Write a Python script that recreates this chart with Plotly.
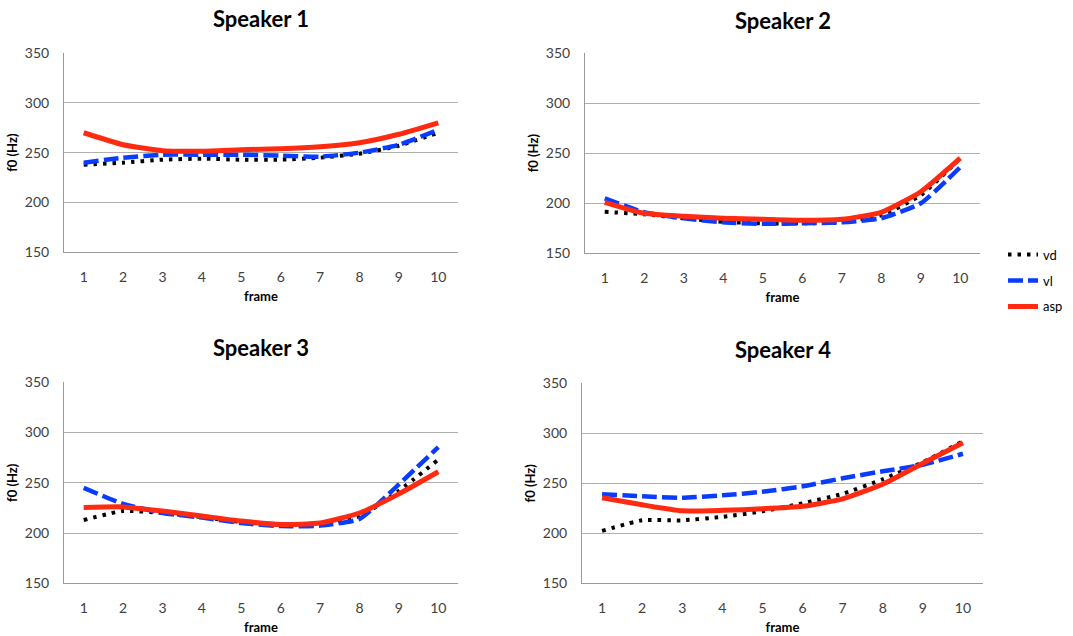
import plotly.graph_objects as go

frames = [1, 2, 3, 4, 5, 6, 7, 8, 9, 10]
tick_labels = ["1", "2", "3", "4", "5", "6", "7", "8", "9", "10"]
speakers = ["Speaker 1", "Speaker 2", "Speaker 3", "Speaker 4"]

vd_s1 = [238, 240, 243, 244, 243, 243, 245, 249, 257, 270]
vl_s1 = [240, 245, 248, 248, 248, 247, 246, 250, 258, 273]
asp_s1 = [270, 258, 252, 251.5, 253, 254, 256, 260, 268.5, 280]

vd_s2 = [191.5, 189, 185, 181.5, 180, 180, 181, 188, 208, 245]
vl_s2 = [205, 191, 185, 181, 179.5, 180, 181, 185, 200, 236]
asp_s2 = [201, 190, 187, 185, 184, 183, 184, 191, 211.5, 245]

vd_s3 = [213, 222, 220, 216, 211, 208.5, 209, 216.5, 242, 273]
vl_s3 = [245, 229, 220, 215.5, 210, 207, 207.5, 214, 248.5, 285.5]
asp_s3 = [225.5, 226, 222, 217, 212, 208.5, 210, 220, 239, 261]

vd_s4 = [202.5, 213, 213, 216.5, 222, 230, 239.5, 254, 271, 292]
vl_s4 = [239, 237, 235.5, 238, 241.5, 247, 255, 262, 268.5, 279.5]
asp_s4 = [235.5, 228.5, 222.5, 223, 224.5, 227, 234.5, 249, 270, 290.5]

data = [
    (vd_s1, vl_s1, asp_s1),
    (vd_s2, vl_s2, asp_s2),
    (vd_s3, vl_s3, asp_s3),
    (vd_s4, vl_s4, asp_s4),
]

W, H = 1073, 636


def fy(y):
    # vertical pixel placement, corrected for the capture's vertical offset
    return (y - 8.7) / 0.973


# pixel boxes for each plot area: (left, right, top, bottom)
boxes = [
    (64, 458, fy(52.7), fy(252)),
    (585, 980, fy(52.7), fy(253)),
    (64, 458, fy(381.7), fy(583)),
    (582, 983, fy(382.7), fy(583)),
]
title_y = [fy(18), fy(20), fy(347), fy(349)]

styles = {
    "vd": dict(color="#000000", width=4, dash="3.5px,6px"),
    "vl": dict(color="#0A3CFF", width=4.5, dash="15px,5px"),
    "asp": dict(color="#FF2A10", width=5, dash="solid"),
}

fig = go.Figure()
FAM = "Lato, Open Sans, sans-serif"
tick_font = dict(family=FAM, size=14, color="#404040")
title_font = dict(family=FAM, size=13, color="#000000")

for i, (vals, box) in enumerate(zip(data, boxes)):
    n = "" if i == 0 else str(i + 1)
    for name, y in zip(["vd", "vl", "asp"], vals):
        fig.add_trace(go.Scatter(
            x=frames, y=y, mode="lines", name=name,
            line=dict(**styles[name], shape="spline", smoothing=0.5),
            showlegend=(i == 0), legendgroup=name,
            xaxis="x" + n, yaxis="y" + n,
        ))
    l, r, t, b = box
    fig.layout["xaxis" + n] = dict(
        domain=[l / W, r / W], anchor="y" + n, range=[0.5, 10.5],
        tickmode="array", tickvals=frames, ticktext=tick_labels,
        showgrid=False, zeroline=False, showline=True, linecolor="#9a9a9a",
        linewidth=1, ticks="", tickfont=tick_font, ticklabelstandoff=12,
        title=dict(text="<b>frame</b>", font=title_font, standoff=7),
        fixedrange=True,
    )
    fig.layout["yaxis" + n] = dict(
        domain=[1 - b / H, 1 - t / H], anchor="x" + n, range=[150, 350],
        tickmode="array", tickvals=[150, 200, 250, 300, 350],
        showgrid=True, gridcolor="#b0b0b0", gridwidth=1, zeroline=False,
        showline=True, linecolor="#9a9a9a", linewidth=1, ticks="",
        tickfont=tick_font, ticklabelstandoff=11,
        title=dict(text="<b>f0 (Hz)</b>", font=title_font, standoff=4),
        fixedrange=True,
    )
    fig.add_annotation(
        text="<b>" + speakers[i] + "</b>", xref="paper", yref="paper",
        x=((l + r) / 2) / W, y=1 - title_y[i] / H, showarrow=False,
        font=dict(family=FAM, size=22, color="#000000"),
        xanchor="center", yanchor="middle",
    )

fig.update_layout(
    width=W, height=H, margin=dict(l=0, r=0, t=0, b=0),
    paper_bgcolor="white", plot_bgcolor="white",
    showlegend=True,
    legend=dict(x=1003 / W, y=1 - 237 / H, xanchor="left", yanchor="top",
                font=dict(family=FAM, size=13, color="#000000"),
                tracegroupgap=6, bgcolor="rgba(0,0,0,0)"),
)

post = (
    "document.documentElement.style.margin='0';"
    "document.documentElement.style.padding='0';"
    "document.documentElement.style.overflow='hidden';"
    "document.body.style.margin='0';"
    "document.body.style.padding='0';"
    "document.body.style.overflow='hidden';"
    "var gd=document.getElementById('{plot_id}');"
    "gd.style.position='fixed';gd.style.top='0px';gd.style.left='0px';"
)

fig.write_html("out.html", config={"displayModeBar": False}, post_script=post)
